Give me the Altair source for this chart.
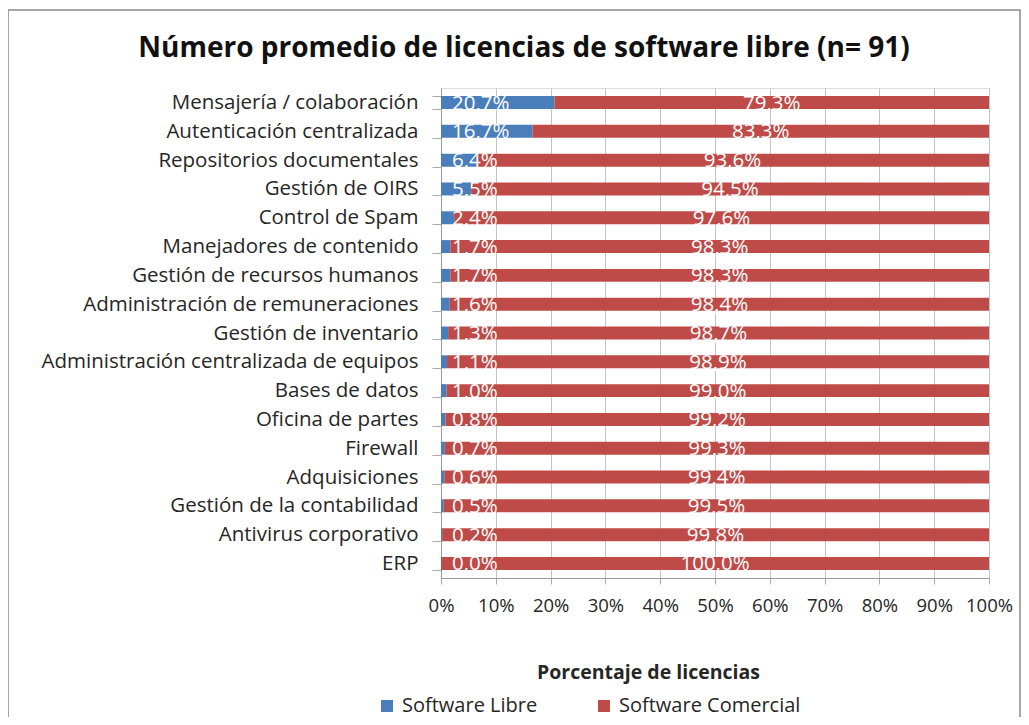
import altair as alt
import pandas as pd

categories = ["Mensajería / colaboración", "Autenticación centralizada", "Repositorios documentales",
              "Gestión de OIRS", "Control de Spam", "Manejadores de contenido",
              "Gestión de recursos humanos", "Administración de remuneraciones", "Gestión de inventario",
              "Administración centralizada de equipos", "Bases de datos", "Oficina de partes",
              "Firewall", "Adquisiciones", "Gestión de la contabilidad", "Antivirus corporativo", "ERP"]
libre = [20.7, 16.7, 6.4, 5.5, 2.4, 1.7, 1.7, 1.6, 1.3, 1.1, 1.0, 0.8, 0.7, 0.6, 0.5, 0.2, 0.0]
comercial = [79.3, 83.3, 93.6, 94.5, 97.6, 98.3, 98.3, 98.4, 98.7, 98.9, 99.0, 99.2, 99.3, 99.4, 99.5, 99.8, 100.0]
series = ["Software Libre", "Software Comercial"]
colors = ["#4A7EBB", "#BE4B48"]
tick_values = [0, 10, 20, 30, 40, 50, 60, 70, 80, 90, 100]
title_text = "Número promedio de licencias de software libre (n= 91)"

rows = []
for c, l, m in zip(categories, libre, comercial):
    rows.append({"cat": c, "serie": series[0], "start": 0, "end": l, "mid": 0,
                 "label": f"{l:.1f}".replace(".", ",") + "%"})
    rows.append({"cat": c, "serie": series[1], "start": l, "end": l + m, "mid": l + m / 2,
                 "label": f"{m:.1f}".replace(".", ",") + "%"})
df = pd.DataFrame(rows)

FONT = "Open Sans"
TXT = "#262626"

y = alt.Y("cat:N", sort=categories, title=None,
          scale=alt.Scale(paddingInner=0.55, paddingOuter=0.28),
          axis=alt.Axis(tickBand="extent", labelFontSize=20.5, labelFont=FONT, labelColor=TXT,
                        labelPadding=14, tickSize=9, tickColor="#aaa", domainColor="#999",
                        labelLimit=600))

bars = alt.Chart(df).mark_bar().encode(
    x=alt.X("start:Q", scale=alt.Scale(domain=[0, 100]),
            axis=alt.Axis(values=tick_values, labelExpr="datum.value + '%'", labelOverlap=False,
                          labelFlush=False,
                          labelFontSize=18.5, labelFont=FONT, labelColor=TXT, labelPadding=12,
                          tickSize=6, tickColor="#aaa", domainColor="#999", gridColor="#c4c4c4",
                          title="Porcentaje de licencias", titleFont=FONT, titleFontSize=19.5,
                          titleFontWeight="bold", titleColor=TXT,
                          titleX=207, titleY=94, titleAlign="center", titleBaseline="middle")),
    x2="end:Q",
    y=y,
    color=alt.Color("serie:N", sort=series, scale=alt.Scale(domain=series, range=colors),
                    legend=alt.Legend(title=None, orient="none", legendX=-64, legendY=608,
                                      direction="horizontal", symbolType="square", symbolSize=144,
                                      labelFontSize=20, labelFont=FONT, labelColor=TXT,
                                      labelLimit=400, labelOffset=5, columnPadding=56,
                                      symbolStrokeWidth=0)),
)

txt_l = alt.Chart(df[df.serie == series[0]]).mark_text(
    align="left", dx=11, baseline="middle", dy=1, color="white", fontSize=20.5, font=FONT
).encode(x="mid:Q", y=alt.Y("cat:N", sort=categories), text="label:N")

txt_c = alt.Chart(df[df.serie == series[1]]).mark_text(
    align="center", baseline="middle", dy=1, color="white", fontSize=20.5, font=FONT
).encode(x="mid:Q", y=alt.Y("cat:N", sort=categories), text="label:N")

single = pd.DataFrame({"t": [title_text]})

frame = alt.Chart(single).mark_rect(
    fill=None, stroke="#8a8a8a", strokeWidth=1.5
).encode(x=alt.value(-433), x2=alt.value(579), y=alt.value(-78), y2=alt.value(660))

title = alt.Chart(single).mark_text(
    font=FONT, fontSize=28, fontWeight="bold", color="#111", align="center", baseline="middle"
).encode(x=alt.value(83), y=alt.value(-39), text="t:N")

chart = alt.layer(frame, title, bars, txt_l, txt_c).properties(
    width=548, height=490,
    autosize=alt.AutoSizeParams(type="none"),
    padding={"left": 433, "top": 80, "right": 32, "bottom": 139},
).configure_view(stroke=None).configure(background="white")

chart.save("out.html", embed_options={"renderer": "svg", "actions": False})
